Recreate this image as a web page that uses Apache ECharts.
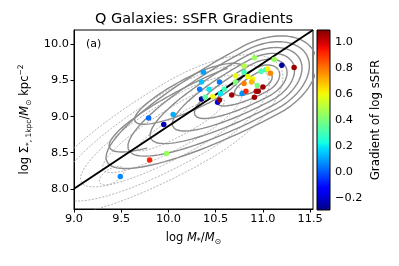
<!DOCTYPE html>
<html><head><meta charset="utf-8">
<script src="https://cdn.jsdelivr.net/npm/echarts@6/dist/echarts.min.js"></script>
<style>html,body{margin:0;padding:0;background:#fff}#c{width:399px;height:266px}</style>
</head><body><div id="c"></div>
<script>
// ---- data ----
const logMass = [9.49,9.80,9.98,9.79,9.95,10.05,10.37,10.35,10.33,10.43,10.54,10.35,10.39,10.47,10.52,10.54,10.55,10.59,10.67,10.71,10.71,10.78,10.80,10.80,10.80,10.82,10.84,10.89,10.88,10.91,10.91,10.93,10.95,10.94,11.00,10.98,11.03,11.05,11.08,11.12,11.20,11.33];
const logSigma1 = [8.17,8.40,8.49,8.98,8.89,9.03,9.615,9.48,9.38,9.38,9.48,9.245,9.27,9.28,9.20,9.23,9.32,9.38,9.30,9.565,9.48,9.32,9.70,9.615,9.46,9.35,9.556,9.52,9.48,9.815,9.27,9.35,9.35,9.43,9.41,9.625,9.65,9.66,9.60,9.79,9.71,9.68];
const ssfrGrad = [0.07,0.92,0.45,0.03,-0.22,0.12,0.10,0.15,0.05,0.20,0.05,-0.25,0.35,0.60,-0.18,1.06,0.20,0.30,1.06,0.60,0.40,0.08,0.50,0.30,0.78,0.92,0.60,0.60,0.70,0.45,1.06,1.02,1.06,0.40,1.06,0.32,0.30,0.62,0.78,0.45,-0.25,1.06];
const relX = [9.0, 11.53];
const relY = [8.0, 10.2];
const xTicks = [9.0,9.5,10.0,10.5,11.0,11.5];
const yTicks = [8.0,8.5,9.0,9.5,10.0];
const cbTicks = [-0.2,0.0,0.2,0.4,0.6,0.8,1.0];
const cbRange = [-0.29, 1.095];
// contour levels: [cx, cy, halfLenRight, halfLenLeft, halfWidth, slope, skew, tStart, tEnd]
const solidContours = [
  [10.98,9.51,0.112,0.28,0.098,0.698,0.404,0,2],
  [10.98,9.51,0.187,0.467,0.159,0.698,0.404,0,2],
  [10.98,9.51,0.261,0.70,0.221,0.698,0.404,0,2],
  [10.98,9.51,0.336,0.933,0.282,0.698,0.404,0,2],
  [10.98,9.51,0.411,1.167,0.343,0.698,0.404,0,2],
  [10.98,9.51,0.485,1.40,0.405,0.698,0.404,0,2],
  [10.98,9.51,0.56,1.63,0.466,0.698,0.404,0,2],
  [10.329,9.375,0.475,0.684,0.200,0.640,0.371,0,2],
  [10.487,9.25,0.766,1.111,0.289,0.613,0.355,0.75,1.6]
];
const dashedContours = [
  [10.223,8.958,0.366,0.549,0.120,0.7586,0.4394,0,2],
  [10.223,8.958,0.549,0.915,0.241,0.7586,0.4394,0,2],
  [10.223,8.958,0.687,1.144,0.337,0.7586,0.4394,0,2],
  [10.223,8.958,0.824,1.373,0.433,0.7586,0.4394,0,2],
  [10.223,8.958,0.961,1.602,0.529,0.7586,0.4394,0,2],
  [9.40,8.18,0.128,0.128,0.084,0.7586,0.4394,0,2]
];

// ---- helpers ----
function interp(pts, t){
  for(let i=1;i<pts.length;i++){
    if(t<=pts[i][0]){const a=pts[i-1],b=pts[i];return a[1]+(b[1]-a[1])*(t-a[0])/(b[0]-a[0]);}
  }
  return pts[pts.length-1][1];
}
function jet(t){
  t=Math.max(0,Math.min(1,t));
  const r=interp([[0,0],[0.35,0],[0.66,1],[0.89,1],[1,0.5]],t);
  const g=interp([[0,0],[0.125,0],[0.375,1],[0.64,1],[0.91,0],[1,0]],t);
  const b=interp([[0,0.5],[0.11,1],[0.34,1],[0.65,0],[1,0]],t);
  return 'rgb('+Math.round(r*255)+','+Math.round(g*255)+','+Math.round(b*255)+')';
}
function contourPath(p){
  const [cx,cy,aR,aL,b,slope,skew,t0,t1]=p;
  const out=[];const n=120;
  for(let i=0;i<=n;i++){
    const t=Math.PI*(t0+(t1-t0)*i/n);
    const c=Math.cos(t),s=Math.sin(t);
    const a=c>0?aR:aL;
    out.push([cx+c*a+s*b*skew, cy+c*a*slope-s*b]);
  }
  return out;
}
const fmt = v => (v<0?'\u2212':'')+Math.abs(v).toFixed(1);
const FONT='DejaVu Sans';

const series=[];
solidContours.forEach(p=>series.push({type:'line',data:contourPath(p),showSymbol:false,silent:true,z:2,
  lineStyle:{color:'#8c8c8c',width:1.4},clip:true}));
dashedContours.forEach(p=>series.push({type:'line',data:contourPath(p),showSymbol:false,silent:true,z:1,
  lineStyle:{color:'#a0a0a0',width:0.8,type:[2,1.5]},clip:true}));
series.push({type:'line',data:relX.map((x,i)=>[x,relY[i]]),showSymbol:false,silent:true,z:3,
  lineStyle:{color:'#000',width:2},clip:true});
series.push({type:'scatter',data:logMass.map((x,i)=>[x,logSigma1[i],ssfrGrad[i]]),symbolSize:5.5,z:4,
  itemStyle:{opacity:1,color:p=>jet((p.data[2]-cbRange[0])/(cbRange[1]-cbRange[0]))}});
const stops=[];for(let i=0;i<=40;i++){stops.push({offset:i/40,color:jet(i/40)});}
series.push({type:'custom',xAxisIndex:1,yAxisIndex:1,data:[[0,0]],silent:true,
  renderItem:(params,api)=>{
    const p0=api.coord([0,cbRange[0]]),p1=api.coord([1,cbRange[1]]);
    return {type:'rect',shape:{x:p0[0],y:p1[1],width:p1[0]-p0[0],height:p0[1]-p1[1]},
      style:{fill:new echarts.graphic.LinearGradient(0,1,0,0,stops),stroke:'#000',lineWidth:1}};
  }});

const chart=echarts.init(document.getElementById('c'),null,{renderer:'canvas'});
chart.setOption({
  animation:false,
  textStyle:{fontFamily:FONT},
  grid:[
    {left:74,top:30,width:239,height:179,show:true,borderColor:'#000',borderWidth:1,backgroundColor:'transparent'},
    {left:317,top:30,width:13,height:180}
  ],
  xAxis:[
    {type:'value',min:9.0,max:11.53,
      axisLine:{show:true,lineStyle:{color:'#000',width:1}},
      axisTick:{show:true,inside:false,length:3.5,lineStyle:{color:'#000'},customValues:xTicks},
      axisLabel:{color:'#000',fontSize:11.3,fontFamily:FONT,margin:5,customValues:xTicks,formatter:fmt},
      splitLine:{show:false},
      name:'{n|log }{i|M}{s|*}{n|/}{i|M}{s|\u2299}',nameLocation:'middle',nameGap:21,
      nameTextStyle:{rich:{
        n:{fontSize:11.5,fontFamily:FONT,color:'#000',lineHeight:16},
        i:{fontSize:11.5,fontFamily:FONT,fontStyle:'italic',color:'#000',lineHeight:16},
        s:{fontSize:8,fontFamily:FONT,color:'#000',lineHeight:16,verticalAlign:'bottom'}}}},
    {type:'value',gridIndex:1,min:0,max:1,show:false}
  ],
  yAxis:[
    {type:'value',min:7.72,max:10.2,
      axisLine:{show:true,lineStyle:{color:'#000',width:1}},
      axisTick:{show:true,inside:false,length:3.5,lineStyle:{color:'#000'},customValues:yTicks},
      axisLabel:{color:'#000',fontSize:11.3,fontFamily:FONT,margin:5,customValues:yTicks,formatter:fmt},
      splitLine:{show:false},
      name:'{n|log \u03A3}{s|*, 1kpc}{n|/}{i|M}{s|\u2299}{n| kpc}{p|\u22122}',nameLocation:'middle',nameGap:33,nameRotate:90,
      nameTextStyle:{rich:{
        n:{fontSize:11.5,fontFamily:FONT,color:'#000',lineHeight:16},
        i:{fontSize:11.5,fontFamily:FONT,fontStyle:'italic',color:'#000',lineHeight:16},
        s:{fontSize:7.5,fontFamily:FONT,color:'#000',lineHeight:16,verticalAlign:'bottom'},
        p:{fontSize:7.5,fontFamily:FONT,color:'#000',lineHeight:16,verticalAlign:'top'}}}},
    {type:'value',gridIndex:1,min:cbRange[0],max:cbRange[1],position:'right',
      axisLine:{show:false},
      axisTick:{show:true,inside:false,length:3.5,lineStyle:{color:'#000'},customValues:cbTicks},
      axisLabel:{color:'#000',fontSize:11.3,fontFamily:FONT,margin:5,customValues:cbTicks,formatter:fmt},
      splitLine:{show:false},
      name:'Gradient of log sSFR',nameLocation:'middle',nameRotate:90,nameGap:40,
      nameTextStyle:{color:'#000',fontSize:11.8,fontFamily:FONT}}
  ],
  graphic:[
    {type:'text',x:194,y:19,style:{text:'Q Galaxies: sSFR Gradients',fontSize:14.5,fontFamily:FONT,fill:'#000',align:'center',verticalAlign:'middle'}},
    {type:'text',x:86,y:44,style:{text:'(a)',fontSize:11,fontFamily:FONT,fill:'#000',align:'left',verticalAlign:'middle'}}
  ],
  series:series
});
</script></body></html>
